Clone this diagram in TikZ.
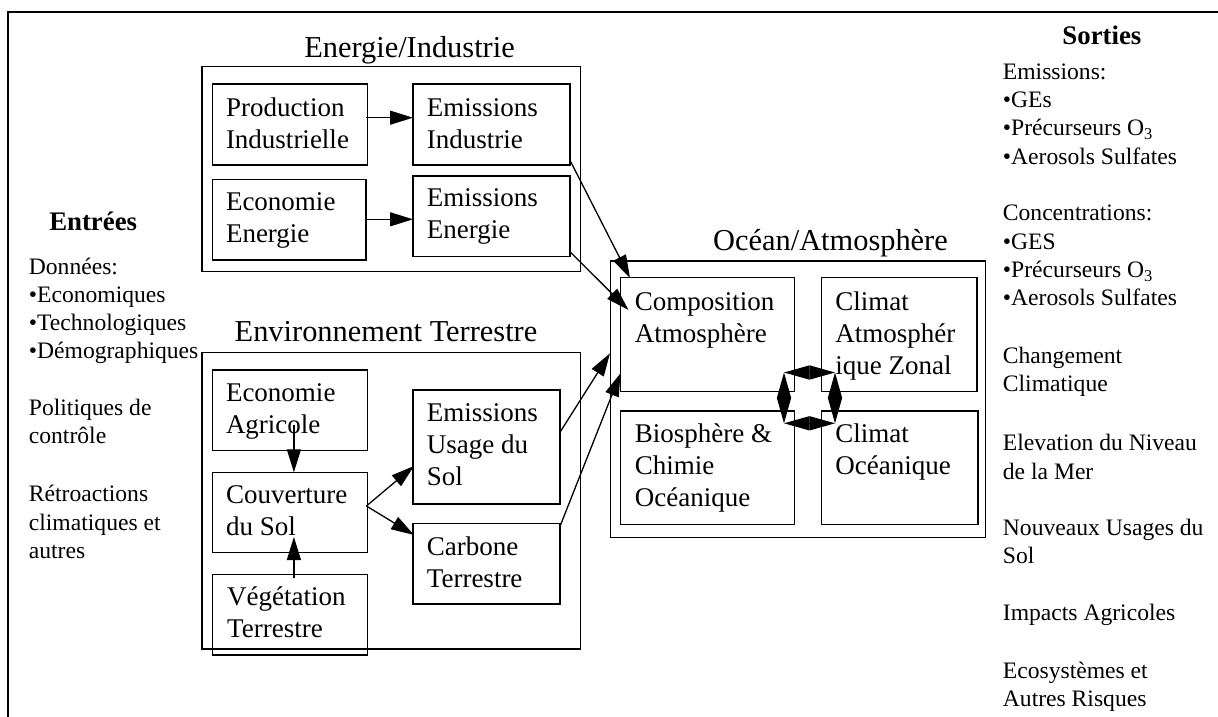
\documentclass[tikz,border=0pt]{standalone}
\usepackage{fontspec}
\setmainfont{Liberation Serif}
\usetikzlibrary{arrows.meta,calc}
\begin{document}
\begin{tikzpicture}[x=1pt,y=-1pt,
  box/.style={draw, line width=1.5pt, inner sep=0pt, outer sep=0pt, anchor=north west},
  btxt/.style={inner sep=0pt, anchor=base west, align=left, font=\fontsize{27}{32}\selectfont},
  ttl/.style={inner sep=0pt, anchor=base, font=\fontsize{30.4}{36}\selectfont},
  side/.style={inner sep=0pt, anchor=base west, align=left, font=\fontsize{23.6}{28.3}\selectfont},
  hdr/.style={inner sep=0pt, anchor=base, font=\fontsize{26.8}{32}\selectfont\bfseries},
  arr/.style={line width=1.3pt, -{Triangle[length=23pt,width=14pt]}},
  dbl/.style={line width=1.3pt, {Triangle[length=25.5pt,width=14pt]}-{Triangle[length=25.5pt,width=14pt]}}
]
\useasboundingbox (0,0) rectangle (1218,717);
% outer frame
\draw[line width=2.6pt] (8,717) -- (8,12) -- (1218,12);

% titles
\node[ttl] (t-ei) at (409.5,57.3) {Energie/Industrie};
\node[ttl] (t-et) at (386,341.7) {Environnement Terrestre};
\node[ttl] (t-oa) at (830.5,250) {Océan/Atmosphère};

% group boxes
\node[box, minimum width=378.6pt, minimum height=205pt] (ei) at (202,66.7) {};
\node[box, minimum width=378.6pt, minimum height=296.3pt] (et) at (202,352.7) {};
\node[box, minimum width=374.7pt, minimum height=276.3pt] (oa) at (610.6,261) {};

% Energie/Industrie
\node[box, minimum width=155pt, minimum height=81pt] (pi) at (212.4,84) {};
\node[box, minimum width=157.2pt, minimum height=81pt] (emi) at (413,84) {};
\node[box, minimum width=153.8pt, minimum height=80.7pt] (ee) at (212.4,179.3) {};
\node[box, minimum width=157.2pt, minimum height=80.7pt] (eme) at (413,176) {};
\node[btxt] (pi-t) at (225.8,148) {Production\\Industrielle};
\node[btxt] (emi-t) at (426.7,148) {Emissions\\Industrie};
\node[btxt] (ee-t) at (225.8,242.7) {Economie\\Energie};
\node[btxt] (eme-t) at (426.7,238.7) {Emissions\\Energie};

% Environnement Terrestre
\node[box, minimum width=155pt, minimum height=80.7pt] (ea) at (212.4,370) {};
\node[box, minimum width=155pt, minimum height=80.4pt] (cs) at (212.4,472.3) {};
\node[box, minimum width=155pt, minimum height=80.7pt] (vt) at (212.4,574.3) {};
\node[box, minimum width=147pt, minimum height=114pt] (eus) at (413,390) {};
\node[box, minimum width=147pt, minimum height=80.7pt] (ct) at (413,523.3) {};
\node[btxt] (ea-t) at (225.8,433.7) {Economie\\Agricole};
\node[btxt] (cs-t) at (225.8,535.3) {Couverture\\du Sol};
\node[btxt] (vt-t) at (227,637) {Végétation\\Terrestre};
\node[btxt] (eus-t) at (426.7,485.7) {Emissions\\Usage du\\Sol};
\node[btxt] (ct-t) at (426.7,587) {Carbone\\Terrestre};

% Ocean/Atmosphere
\node[box, minimum width=174.1pt, minimum height=114pt] (ca) at (620.5,277.7) {};
\node[box, minimum width=155.6pt, minimum height=114pt] (caz) at (821.4,277.7) {};
\node[box, minimum width=174.1pt, minimum height=113.3pt] (bco) at (620.5,411) {};
\node[box, minimum width=156.6pt, minimum height=113.3pt] (co) at (821.4,411) {};
\node[btxt] (ca-t) at (634.7,342.7) {Composition\\Atmosphère};
\node[btxt] (caz-t) at (835.2,374.7) {Climat\\Atmosphér\\ique Zonal};
\node[btxt] (bco-t) at (634.7,506.3) {Biosphère \&\\Chimie\\Océanique};
\node[btxt] (co-t) at (835.2,474.3) {Climat\\Océanique};

% side texts
\node[hdr] (in-h) at (93.2,230) {Entrées};
\node[side] (in-1) at (28.7,358.9) {Données:\\•Economiques\\•Technologiques\\•Démographiques};
\node[side] (in-2) at (28.7,443.3) {Politiques de\\contrôle};
\node[side] (in-3) at (28.7,558.3) {Rétroactions\\climatiques et\\autres};

\node[hdr] (out-h) at (1101.9,45) {Sorties};
\node[side] (out-1) at (1002.7,164.2) {Emissions:\\•GEs\\•Précurseurs O\textsubscript{3}\\•Aerosols Sulfates};
\node[side] (out-2) at (1002.7,305.6) {Concentrations:\\•GES\\•Précurseurs O\textsubscript{3}\\•Aerosols Sulfates};
\node[side] (out-3) at (1002.7,391.6) {Changement\\Climatique};
\node[side] (out-4) at (1002.7,479) {Elevation du Niveau\\de la Mer};
\node[side] (out-5) at (1002.7,563.3) {Nouveaux Usages du\\Sol};
\node[side] (out-6) at (1002.7,620.7) {Impacts Agricoles};
\node[side] (out-7) at (1002.7,706.6) {Ecosystèmes et\\Autres Risques};

% connectors
\draw[arr] ($(pi.north east)+(-1,33.7)$) -- ($(emi.north west)+(0,33.7)$);
\draw[arr] ($(ee.north east)+(0,40)$) -- ($(eme.north west)+(0,43.3)$);
\draw[arr] ($(ea.south)+(4,-26)$) -- ($(cs.north)+(4,0)$);
\draw[arr] ($(vt.north)+(4,3.7)$) -- ($(cs.south)+(4,-15.7)$);
\draw[arr] ($(cs.east)+(-1,-6.5)$) -- ($(eus.west)+(1,19)$);
\draw[arr] ($(cs.east)+(-1,-6.5)$) -- ($(ct.north west)+(1,11.7)$);
\draw[arr] ($(emi.south east)+(0.5,-3.3)$) -- ($(ca.north west)+(9.5,0.3)$);
\draw[arr] ($(eme.south east)+(0,-4.7)$) -- ($(ca.north west)+(8,32.3)$);
\draw[arr] ($(eus.east)+(-0.7,-13.7)$) -- ($(oa.north west)+(-0.6,92.3)$);
\draw[arr] ($(ct.north east)+(0,3)$) -- ($(ca.south west)+(0,-18.4)$);

% diamond double arrows
\coordinate (d1) at ($(ca.south east)+(-10.6,-19.2)$);
\coordinate (d2) at ($(caz.south west)+(13.6,-19.2)$);
\coordinate (d3) at ($(bco.north east)+(-10.6,12.3)$);
\coordinate (d4) at ($(co.north west)+(13.6,12.3)$);
\draw[dbl] (d1) -- (d2);
\draw[dbl] (d3) -- (d4);
\draw[dbl] (d1) -- (d3);
\draw[dbl] (d2) -- (d4);
\end{tikzpicture}
\end{document}
